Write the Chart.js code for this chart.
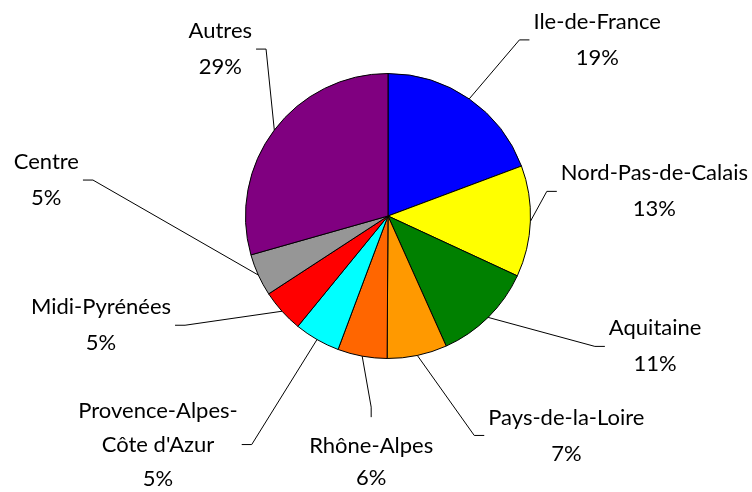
<!DOCTYPE html>
<html>
<head>
<meta charset="utf-8">
<script src="https://cdn.jsdelivr.net/npm/chart.js@4"></script>
<style>
  html, body { margin: 0; padding: 0; background: #fff; }
  #wrap { width: 752px; height: 492px; }
</style>
</head>
<body>
<div id="wrap"><canvas id="pieChart" width="752" height="492"></canvas></div>
<script>
// Data (shares, percent)
const regions = [
  "Ile-de-France", "Nord-Pas-de-Calais", "Aquitaine", "Pays-de-la-Loire",
  "Rhône-Alpes", "Provence-Alpes-Côte d'Azur", "Midi-Pyrénées", "Centre", "Autres"
];
const shares = [19.3, 12.6, 11.4, 6.8, 5.6, 5.2, 4.9, 4.8, 29.4];
// how each label is broken onto lines
const labelLines = [
  ["Ile-de-France"], ["Nord-Pas-de-Calais"], ["Aquitaine"], ["Pays-de-la-Loire"],
  ["Rhône-Alpes"], ["Provence-Alpes-", "Côte d'Azur"], ["Midi-Pyrénées"], ["Centre"], ["Autres"]
];
const sliceColors = [
  "#0000ff", "#ffff00", "#008000", "#ff9900",
  "#ff6600", "#00ffff", "#ff0000", "#969696", "#800080"
];

// label placement: offset of the text block centre from the slice's outer mid point,
// and which side of the block the leader line attaches to
const labelPlacement = [
  { dx: 128, dy: -59, side: "left" },
  { dx: 124, dy: -30, side: "left" },
  { dx: 167, dy: 29, side: "left" },
  { dx: 149, dy: 80, side: "left" },
  { dx: 9, dy: 106, side: "top", gap: 32 },
  { dx: -159, dy: 105, side: "right", gap: 34 },
  { dx: -181, dy: 14, side: "right" },
  { dx: -212, dy: -95, side: "right" },
  { dx: -54, dy: -81, side: "right" }
];

const FONT = "22px Lato, 'DejaVu Sans', sans-serif";

const labelPlugin = {
  id: "pieLabels",
  afterDraw(chart) {
    const ctx = chart.ctx;
    const arcs = chart.getDatasetMeta(0).data;
    const total = shares.reduce((a, b) => a + b, 0);
    ctx.save();
    ctx.font = FONT;
    ctx.fillStyle = "#000";
    ctx.strokeStyle = "#000";
    ctx.lineWidth = 1;
    ctx.textAlign = "center";
    ctx.textBaseline = "middle";

    arcs.forEach((arc, i) => {
      const p = arc.getProps(["x", "y", "startAngle", "endAngle", "outerRadius"], true);
      const mid = (p.startAngle + p.endAngle) / 2;
      const ex = p.x + Math.cos(mid) * p.outerRadius;
      const ey = p.y + Math.sin(mid) * p.outerRadius;

      const place = labelPlacement[i];
      const gap = place.gap || 36;
      const lines = labelLines[i].concat([Math.round(shares[i] / total * 100) + "%"]);
      const cx = ex + place.dx;
      const cy = ey + place.dy;
      const top = cy - gap * (lines.length - 1) / 2;
      const halfW = Math.max(...lines.map((t) => ctx.measureText(t).width)) / 2;

      lines.forEach((t, k) => ctx.fillText(t, cx, top + k * gap));

      // leader line: short stub off the label box, then to the pie edge
      let ax, ay, sx, sy;
      if (place.side === "left") {
        ax = cx - halfW - 4; ay = cy; sx = ax - 10; sy = ay;
      } else if (place.side === "right") {
        ax = cx + halfW + 4; ay = cy; sx = ax + 10; sy = ay;
      } else {
        ax = cx; ay = top - 29; sx = ax; sy = ay - 10;
      }
      ctx.beginPath();
      ctx.moveTo(ax, ay);
      ctx.lineTo(sx, sy);
      ctx.lineTo(ex, ey);
      ctx.stroke();
    });
    ctx.restore();
  }
};

new Chart(document.getElementById("pieChart"), {
  type: "pie",
  data: {
    labels: regions,
    datasets: [{
      data: shares,
      backgroundColor: sliceColors,
      borderColor: "#000",
      borderWidth: 1
    }]
  },
  options: {
    responsive: false,
    animation: false,
    layout: { padding: { left: 245, right: 221, top: 73, bottom: 133 } },
    plugins: {
      legend: { display: false },
      tooltip: { enabled: false }
    }
  },
  plugins: [labelPlugin]
});
</script>
</body>
</html>
